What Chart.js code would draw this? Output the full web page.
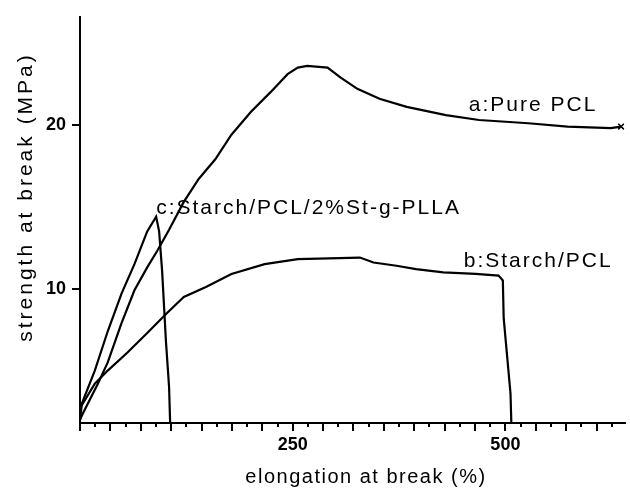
<!DOCTYPE html>
<html>
<head>
<meta charset="utf-8">
<script src="https://cdn.jsdelivr.net/npm/chart.js@4/dist/chart.umd.min.js"></script>
<style>
  html, body { margin: 0; padding: 0; background: #fff; }
  #wrap { width: 630px; height: 490px; }
</style>
</head>
<body>
<div id="wrap"><canvas id="c" width="630" height="490"></canvas></div>
<script>
// ===== 数据（从图上读的） =====
// a: Pure PCL
const pclX = [0, 3.5, 21, 32.6, 48.8, 64, 79, 90.7, 104.7, 122, 139.5, 159, 178, 201, 224, 244, 256, 267, 291, 306, 326, 352, 384, 430, 469, 527, 573, 624, 636];
const pclY = [2.0, 2.4, 4.2, 5.5, 7.9, 9.9, 11.3, 12.3, 13.6, 15.3, 16.7, 17.9, 19.4, 20.8, 22.0, 23.1, 23.5, 23.6, 23.5, 22.9, 22.2, 21.6, 21.1, 20.6, 20.3, 20.1, 19.9, 19.8, 19.9];

// b: Starch/PCL
const starchX = [0, 17.4, 32.6, 55.8, 79, 102, 122, 148, 178, 217, 256, 329, 345, 372, 395, 427, 465, 492, 497, 498, 502, 506, 508];
const starchY = [2.7, 4.2, 5.0, 6.1, 7.3, 8.5, 9.5, 10.1, 10.9, 11.5, 11.8, 11.9, 11.6, 11.4, 11.2, 11.0, 10.9, 10.8, 10.5, 8.2, 5.9, 3.6, 0];

// c: Starch/PCL/2%St-g-PLLA
const graftX = [0, 2.3, 17.4, 32.6, 48.8, 64, 79, 89.5, 93, 96.5, 101, 104.7, 107];
const graftY = [2.0, 3.0, 5.0, 7.4, 9.7, 11.5, 13.5, 14.4, 13.5, 11.1, 6.8, 4.0, 0];

const xLabelValues = [250, 500];
const yTickValues = [10, 20];
const xStep = 250 / 7;   // 长刻度间距

// 曲线标注（数据坐标）
const curveLabels = [
  { text: 'a:Pure PCL', x: 457, y: 21.2 },
  { text: 'c:Starch/PCL/2%St-g-PLLA', x: 89.5, y: 14.9 },
  { text: 'b:Starch/PCL', x: 451, y: 11.7 }
];

const FONT = '"Liberation Sans", Arial, sans-serif';

function pts(xs, ys) { return xs.map((x, i) => ({ x: x, y: ys[i] })); }

function lineSet(label, data, extra) {
  return Object.assign({
    label: label,
    data: data,
    borderColor: '#000',
    borderWidth: 2.2,
    pointRadius: 0,
    tension: 0,
    fill: false
  }, extra || {});
}

// 短刻度、标注、轴标题
const decor = {
  id: 'decor',
  afterDraw(chart) {
    const ctx = chart.ctx;
    const xs = chart.scales.x, ys = chart.scales.y;
    const bottom = chart.chartArea.bottom;
    ctx.save();
    ctx.strokeStyle = '#000';
    ctx.lineWidth = 2;
    for (let k = 1; k * xStep / 2 <= xs.max; k += 2) {
      const px = Math.round(xs.getPixelForValue(k * xStep / 2));
      ctx.beginPath();
      ctx.moveTo(px, bottom);
      ctx.lineTo(px, bottom + 4);
      ctx.stroke();
    }
    ctx.fillStyle = '#000';
    ctx.textBaseline = 'middle';
    ctx.textAlign = 'left';
    ctx.font = '21px ' + FONT;
    ctx.letterSpacing = '2px';
    curveLabels.forEach(l => {
      ctx.fillText(l.text, xs.getPixelForValue(l.x), ys.getPixelForValue(l.y));
    });
    // x 轴标题
    ctx.textAlign = 'center';
    ctx.font = '20px ' + FONT;
    ctx.letterSpacing = '1.5px';
    ctx.fillText('elongation at break (%)', 366, 477);
    // y 轴标题
    ctx.translate(26, 197);
    ctx.rotate(-Math.PI / 2);
    ctx.font = '21px ' + FONT;
    ctx.letterSpacing = '3px';
    ctx.fillText('strength at break (MPa)', 0, 0);
    ctx.restore();
  }
};

new Chart(document.getElementById('c'), {
  type: 'line',
  data: {
    datasets: [
      lineSet('a:Pure PCL', pts(pclX, pclY), {
        pointRadius: ctx => ctx.dataIndex === pclX.length - 1 ? 4 : 0,
        pointStyle: 'crossRot',
        pointBorderWidth: 1.5
      }),
      lineSet('b:Starch/PCL', pts(starchX, starchY)),
      lineSet('c:Starch/PCL/2%St-g-PLLA', pts(graftX, graftY))
    ]
  },
  options: {
    responsive: false,
    animation: false,
    layout: { padding: { top: 14, right: 0, left: 0, bottom: 0 } },
    plugins: {
      legend: { display: false },
      tooltip: { enabled: false }
    },
    scales: {
      x: {
        type: 'linear',
        min: 0,
        max: 640,
        afterFit: s => { s.height = 67; },
        afterBuildTicks: s => {
          const t = [];
          for (let k = 0; k * xStep <= 640; k++) t.push({ value: k * xStep });
          s.ticks = t;
        },
        border: { color: '#000', width: 2 },
        grid: { drawOnChartArea: false, drawTicks: true, tickLength: 8, color: '#000', lineWidth: 2 },
        ticks: {
          autoSkip: false,
          maxRotation: 0,
          padding: 3,
          color: '#000',
          font: { family: FONT, size: 18, weight: 'bold' },
          callback: v => {
            const hit = xLabelValues.find(l => Math.abs(l - v) < 0.01);
            return hit !== undefined ? String(hit) : '';
          }
        }
      },
      y: {
        min: 1.8,
        max: 26.6,
        afterFit: s => { s.width = 80; },
        afterBuildTicks: s => { s.ticks = yTickValues.map(v => ({ value: v })); },
        border: { color: '#000', width: 2 },
        grid: { drawOnChartArea: false, drawTicks: true, tickLength: 8, color: '#000', lineWidth: 2 },
        ticks: {
          padding: 6,
          color: '#000',
          font: { family: FONT, size: 18, weight: 'bold' }
        }
      }
    }
  },
  plugins: [decor]
});
</script>
</body>
</html>
